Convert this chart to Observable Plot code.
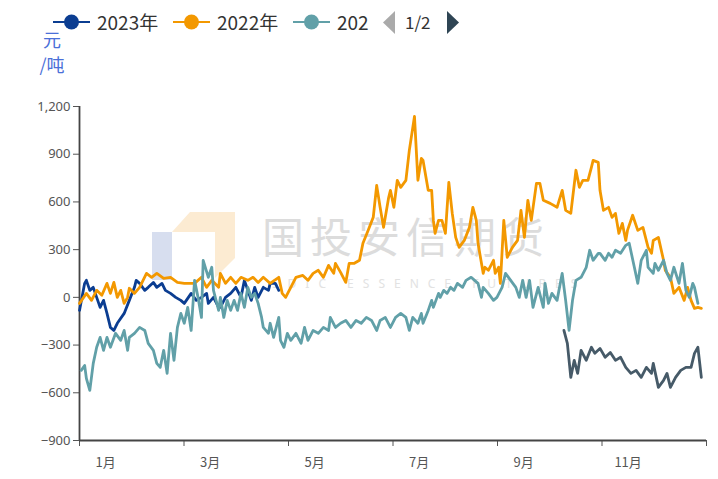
<!DOCTYPE html>
<html>
<head>
<meta charset="utf-8">
<script src="https://cdn.jsdelivr.net/npm/d3@7"></script>
<script src="https://cdn.jsdelivr.net/npm/@observablehq/plot@0.6"></script>
<style>
  html, body { margin: 0; padding: 0; background: #fff; }
  #wrap { position: relative; width: 718px; height: 479px; overflow: hidden; font-family: "Noto Sans CJK SC", "Noto Sans", sans-serif; }
  #wm, #legend, #chart { position: absolute; left: 0; top: 0; }
  #chart { z-index: 2; }
  #wm { z-index: 1; width: 718px; height: 479px; }
  #legend { z-index: 3; width: 718px; height: 80px; }
  .lg { position: absolute; top: 7px; font-size: 19px; color: #333; line-height: 30px; white-space: nowrap; }
</style>
</head>
<body>
<div id="wrap">
  <svg id="wm" width="718" height="479">
    <rect x="152" y="232" width="20" height="48" fill="#d7deef"/>
    <path d="M172,232 L190,212 L235,212 L235,258 L215,278 L215,232 Z" fill="#fcebd2"/>
    <text x="262" y="253" font-size="42" fill="#dcdcdc" letter-spacing="6" font-family="Noto Sans CJK SC">国投安信期货</text>
    <text x="272" y="288" font-size="12" fill="#e2e2e2" letter-spacing="9" font-family="Noto Sans">SDIC ESSENCE FUTURES</text>
  </svg>
  <div id="chart"></div>
  <div id="legend"></div>
</div>
<script>
// ---- data (x = day of year, y = 元/吨) ----
const seriesNames = ["2023年", "2022年", "2021年", "2020年"];
const seriesColors = ["#0b3d91", "#f39800", "#61a0a8", "#465a68"];

const days2023 = [0,3,4,6,8,10,12,14,16,18,20,22,26,29,32,33,35,38,40,43,45,48,50,53,56,59,61,65,68,71,74,75,78,81,82,85,88,91,94,96,98,100,102,104,107,110,111,114,116];
const vals2023 = [-82,88,107,44,63,0,-63,-19,-101,-189,-208,-163,-101,-19,63,107,88,44,63,94,63,88,44,25,0,-19,-38,25,-19,0,25,-38,0,-63,-63,0,25,63,0,107,44,-19,63,0,63,44,88,88,44];

const days2022 = [0,4,7,10,13,16,18,20,22,24,26,28,29,32,35,39,42,45,49,53,57,61,67,71,74,77,81,82,85,88,91,94,98,101,104,107,111,116,118,120,123,126,130,133,136,139,142,145,148,149,152,155,157,160,163,165,168,171,173,175,177,180,181,183,185,187,190,192,195,197,199,200,203,205,206,207,209,211,213,215,217,219,221,224,227,229,231,232,235,236,238,241,242,244,245,247,249,252,255,257,259,261,263,266,268,270,274,278,281,283,286,289,291,293,296,298,299,302,303,305,308,310,312,314,316,318,319,322,325,328,331,333,334,337,340,341,344,346,349,352,354,356,358,360,362];
const vals2022 = [-38,25,-19,44,13,88,25,94,0,44,-38,0,57,25,63,151,126,151,119,126,94,88,88,126,63,107,63,151,88,126,88,126,107,126,94,126,88,126,25,0,63,126,138,107,151,170,126,201,151,214,157,94,214,214,233,340,421,503,704,566,440,629,673,566,736,692,736,924,1138,736,874,861,673,673,484,402,484,484,402,723,528,377,314,358,440,566,484,340,151,189,170,233,151,189,88,484,252,314,358,547,377,610,484,717,717,610,591,566,673,547,528,799,692,736,736,817,861,849,673,547,566,503,528,402,465,358,421,516,421,440,314,277,358,377,233,170,126,25,63,-19,63,-19,-69,-63,-69];

const days2021 = [1,3,4,6,8,10,12,14,16,18,21,24,26,28,29,32,35,38,40,43,45,47,49,51,53,55,57,59,61,63,65,67,69,71,72,75,77,78,81,82,84,86,88,90,92,94,96,98,100,102,104,106,107,110,111,113,116,117,119,121,123,126,129,131,133,136,139,142,145,146,149,152,155,158,161,164,167,170,173,175,178,181,184,187,190,192,194,197,199,200,203,205,206,209,210,212,214,216,218,220,223,225,228,230,232,234,235,238,241,243,246,248,251,254,256,258,260,262,264,267,270,271,273,275,278,281,283,285,287,289,292,295,297,299,302,303,306,308,310,312,315,318,320,323,325,327,330,331,334,335,337,340,342,344,346,349,351,353,355,357,358,360];
const vals2021 = [-459,-428,-509,-585,-415,-314,-252,-333,-252,-314,-226,-270,-208,-333,-252,-226,-189,-208,-289,-333,-415,-440,-333,-478,-226,-396,-189,-101,-163,-63,-208,107,0,-126,233,126,189,44,-82,0,-126,-19,-82,-19,-82,25,-63,63,0,25,-38,-126,-189,-226,-163,-252,-126,-270,-314,-226,-270,-226,-289,-189,-270,-208,-226,-189,-208,-126,-189,-163,-145,-189,-145,-163,-126,-145,-208,-145,-126,-189,-126,-101,-126,-208,-126,-163,-101,-163,-82,-19,-63,25,0,44,25,63,44,88,63,107,126,107,88,0,63,25,-19,0,63,151,107,63,0,107,0,107,-63,63,-63,88,-38,25,-19,151,-19,-208,-19,107,126,189,296,233,277,277,233,277,252,296,277,327,340,189,88,233,296,189,151,214,170,233,151,107,189,88,214,44,0,88,63,-38];

const days2020 = [282,284,286,288,290,292,295,298,300,303,306,309,312,315,318,321,324,327,330,333,334,337,340,342,344,347,350,353,356,358,360,362];
const vals2020 = [-208,-289,-503,-396,-478,-333,-396,-314,-352,-321,-377,-346,-396,-377,-440,-478,-459,-503,-440,-478,-415,-566,-522,-478,-566,-503,-459,-440,-440,-352,-314,-503];

const yTicks = [-900, -600, -300, 0, 300, 600, 900, 1200];
const monthLabels = ["1月", "3月", "5月", "7月", "9月", "11月"];
const monthIndexOfLabels = [0, 2, 4, 6, 8, 10];

// ---- build table ----
const dayLists = [days2023, days2022, days2021, days2020];
const valLists = [vals2023, vals2022, vals2021, vals2020];
const rows = [];
seriesNames.forEach((name, i) => {
  dayLists[i].forEach((d, j) => rows.push({series: name, day: d, value: valLists[i][j]}));
});
const monthLen = 365 / 12;
const boundaryTicks = d3.range(0, 13, 2).map(m => m * monthLen);
const labelRows = monthLabels.map((t, i) => ({label: t, day: (monthIndexOfLabels[i] + 0.5) * monthLen}));

const chart = Plot.plot({
  width: 718,
  height: 479,
  marginLeft: 79,
  marginRight: 12,
  marginTop: 106,
  marginBottom: 39,
  style: {background: "transparent", fontFamily: "'Noto Sans', 'Noto Sans CJK SC', sans-serif", fontSize: "13px", color: "#555"},
  x: {domain: [0, 365], ticks: boundaryTicks, tickFormat: () => "", tickSize: 6, label: null},
  y: {domain: [-900, 1200], ticks: yTicks, tickFormat: d3.format(","), tickSize: 6, tickPadding: 3, label: null},
  color: {domain: seriesNames, range: seriesColors},
  marks: [
    Plot.ruleX([0], {stroke: "#444", strokeWidth: 1.8}),
    Plot.ruleY([-900], {stroke: "#444", strokeWidth: 1.8}),
    Plot.line(rows, {x: "day", y: "value", z: "series", stroke: "series", strokeWidth: 2.8, curve: "linear"}),
    Plot.text(labelRows, {x: "day", frameAnchor: "bottom", dy: 26, text: "label", fontSize: 13, fill: "#555", fontFamily: "Noto Sans CJK SC"})
  ]
});
document.getElementById("chart").appendChild(chart);

// ---- legend (HTML) ----
const lg = document.getElementById("legend");
const legendItems = [
  {name: seriesNames[0], color: seriesColors[0], x: 53},
  {name: seriesNames[1], color: seriesColors[1], x: 173},
  {name: "202", color: seriesColors[2], x: 293}
];
let html = '<svg width="718" height="80" style="position:absolute;left:0;top:0">';
legendItems.forEach(it => {
  html += `<line x1="${it.x}" x2="${it.x + 37}" y1="22" y2="22" stroke="${it.color}" stroke-width="2"/>`;
  html += `<circle cx="${it.x + 18.5}" cy="22" r="7.5" fill="${it.color}"/>`;
});
html += '<path d="M395,11 L383,22.5 L395,34 Z" fill="#aaa"/>';
html += '<path d="M447,11 L459,22.5 L447,34 Z" fill="#2f4554"/>';
html += '<text x="52" y="47" font-size="18" fill="#4a6fd8" text-anchor="middle" font-family="Noto Sans CJK SC">元</text>';
html += '<text x="52" y="72" font-size="18" fill="#4a6fd8" text-anchor="middle" font-family="Noto Sans CJK SC">/吨</text>';
html += '</svg>';
legendItems.forEach(it => {
  html += `<div class="lg" style="left:${it.x + 44}px">${it.name}</div>`;
});
html += '<div class="lg" style="left:405px;font-size:17px">1/2</div>';
lg.innerHTML = html;
</script>
</body>
</html>
